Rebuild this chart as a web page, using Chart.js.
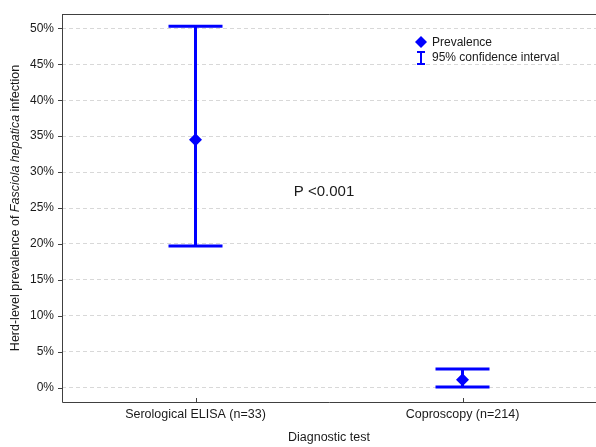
<!DOCTYPE html>
<html>
<head>
<meta charset="utf-8">
<script src="https://cdn.jsdelivr.net/npm/chart.js@4/dist/chart.umd.min.js"></script>
<style>
html,body{margin:0;padding:0;background:#fff;}
#wrap{width:596px;height:447px;position:relative;}
</style>
</head>
<body>
<div id="wrap"><canvas id="c" width="596" height="447"></canvas></div>
<script>
const categories = ['Serological ELISA (n=33)', 'Coproscopy (n=214)'];
const prevalence = [34.5, 1.1];
const ciLower = [19.7, 0.1];
const ciUpper = [50.3, 2.6];
const yTickValues = [0, 5, 10, 15, 20, 25, 30, 35, 40, 45, 50];
const annotationText = 'P <0.001';
const annotationY = 27.3;
const legendLabels = ['Prevalence', '95% confidence interval'];
const xTitle = 'Diagnostic test';
const yTitleParts = [['Herd-level prevalence of ', false], ['Fasciola hepatica', true], [' infection', false]];

const BLUE = '#0000ff';
const FONT = '"Liberation Sans", Arial, sans-serif';

const customPlugin = {
  id: 'custom',
  beforeDatasetsDraw(chart) {
    const ctx = chart.ctx;
    const xs = chart.scales.x, ys = chart.scales.y;
    const a = chart.chartArea;
    ctx.save();
    ctx.strokeStyle = '#404040';
    ctx.lineWidth = 1;
    ctx.beginPath();
    ctx.moveTo(a.left + 0.5, a.top + 0.5);
    ctx.lineTo(a.right, a.top + 0.5);
    ctx.moveTo(a.left + 0.5, a.top);
    ctx.lineTo(a.left + 0.5, a.bottom + 0.5);
    ctx.lineTo(a.right, a.bottom + 0.5);
    ctx.stroke();
    ctx.beginPath();
    yTickValues.forEach(v => {
      const y = Math.round(ys.getPixelForValue(v)) + 0.5;
      ctx.moveTo(a.left - 4, y);
      ctx.lineTo(a.left, y);
    });
    categories.forEach((c, i) => {
      const x = Math.round(xs.getPixelForValue(i)) + 0.5;
      ctx.moveTo(x, a.bottom);
      ctx.lineTo(x, a.bottom - 4);
    });
    ctx.stroke();
    ctx.strokeStyle = BLUE;
    ctx.lineWidth = 3;
    ctx.lineCap = 'butt';
    categories.forEach((c, i) => {
      const x = xs.getPixelForValue(i);
      const yl = ys.getPixelForValue(ciLower[i]);
      const yu = ys.getPixelForValue(ciUpper[i]);
      ctx.beginPath();
      ctx.moveTo(x, yl);
      ctx.lineTo(x, yu);
      ctx.moveTo(x - 27, yl);
      ctx.lineTo(x + 27, yl);
      ctx.moveTo(x - 27, yu);
      ctx.lineTo(x + 27, yu);
      ctx.stroke();
    });
    ctx.restore();
  },
  afterDraw(chart) {
    const ctx = chart.ctx;
    const xs = chart.scales.x, ys = chart.scales.y;
    const a = chart.chartArea;
    ctx.save();
    ctx.fillStyle = '#1a1a1a';
    ctx.font = '15px ' + FONT;
    ctx.textAlign = 'center';
    ctx.textBaseline = 'middle';
    const mx = (xs.getPixelForValue(0) + xs.getPixelForValue(1)) / 2 - 5;
    ctx.fillText(annotationText, mx, ys.getPixelForValue(annotationY));
    ctx.font = '12.5px ' + FONT;
    ctx.fillText(xTitle, (a.left + a.right) / 2, 438);
    ctx.translate(16, (a.top + a.bottom) / 2);
    ctx.rotate(-Math.PI / 2);
    let total = 0;
    yTitleParts.forEach(p => {
      ctx.font = (p[1] ? 'italic ' : '') + '12.5px ' + FONT;
      total += ctx.measureText(p[0]).width;
    });
    let cx = -total / 2;
    ctx.textAlign = 'left';
    yTitleParts.forEach(p => {
      ctx.font = (p[1] ? 'italic ' : '') + '12.5px ' + FONT;
      ctx.fillText(p[0], cx, 0);
      cx += ctx.measureText(p[0]).width;
    });
    ctx.restore();
    ctx.save();
    const lx = 421, ly1 = 42, ly2 = 58;
    ctx.fillStyle = BLUE;
    ctx.beginPath();
    ctx.moveTo(lx, ly1 - 6);
    ctx.lineTo(lx + 6, ly1);
    ctx.lineTo(lx, ly1 + 6);
    ctx.lineTo(lx - 6, ly1);
    ctx.closePath();
    ctx.fill();
    ctx.strokeStyle = BLUE;
    ctx.lineWidth = 2;
    ctx.beginPath();
    ctx.moveTo(lx, ly2 - 6);
    ctx.lineTo(lx, ly2 + 6);
    ctx.moveTo(lx - 4, ly2 - 6);
    ctx.lineTo(lx + 4, ly2 - 6);
    ctx.moveTo(lx - 4, ly2 + 6);
    ctx.lineTo(lx + 4, ly2 + 6);
    ctx.stroke();
    ctx.fillStyle = '#1a1a1a';
    ctx.font = '12px ' + FONT;
    ctx.textAlign = 'left';
    ctx.textBaseline = 'middle';
    ctx.fillText(legendLabels[0], lx + 11, ly1 + 1);
    ctx.fillText(legendLabels[1], lx + 11, ly2);
    ctx.restore();
  }
};

new Chart(document.getElementById('c'), {
  type: 'line',
  data: {
    labels: categories,
    datasets: [{
      label: legendLabels[0],
      data: prevalence,
      showLine: false,
      pointStyle: 'rectRot',
      pointRadius: 6.5,
      pointHoverRadius: 6.5,
      backgroundColor: BLUE,
      borderColor: BLUE,
      borderWidth: 0
    }]
  },
  options: {
    responsive: false,
    animation: false,
    events: [],
    layout: { autoPadding: false, padding: { top: 14, right: 0, bottom: 0, left: 0 } },
    plugins: { legend: { display: false }, tooltip: { enabled: false } },
    scales: {
      x: {
        type: 'category',
        offset: true,
        grid: { display: false, drawTicks: false },
        border: { display: false },
        ticks: { color: '#1a1a1a', font: { family: FONT, size: 12.5 }, padding: 5, maxRotation: 0 },
        afterFit(s) { s.height = 45; s.paddingLeft = 0; s.paddingRight = 0; }
      },
      y: {
        min: -2,
        max: 52,
        grid: { color: '#d8d8d8', lineWidth: 1, drawTicks: false },
        border: { display: false, dash: [4, 3] },
        ticks: {
          color: '#1a1a1a',
          font: { family: FONT, size: 12 },
          padding: 8,
          callback: v => v + '%'
        },
        afterBuildTicks(s) { s.ticks = yTickValues.map(v => ({ value: v })); },
        afterFit(s) { s.width = 62; s.paddingTop = 0; s.paddingBottom = 0; }
      }
    }
  },
  plugins: [customPlugin]
});
</script>
</body>
</html>
